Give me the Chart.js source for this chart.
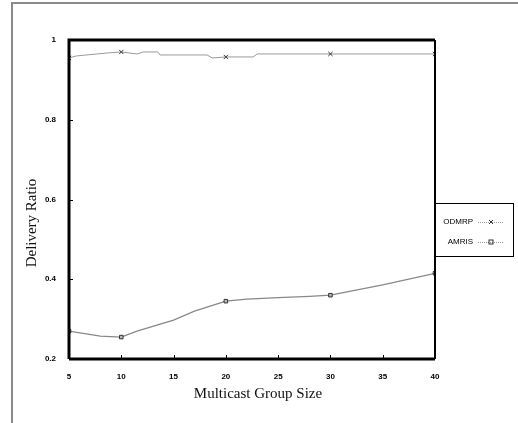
<!DOCTYPE html>
<html>
<head>
<meta charset="utf-8">
<script src="https://cdn.jsdelivr.net/npm/chart.js@4"></script>
<style>
  body { margin: 0; background: #fff; }
  #wrap { position: relative; width: 518px; height: 423px; overflow: hidden; }
  #frame { position: absolute; left: 11px; top: 2px; width: 520px; height: 430px; border-left: 2px solid #8a8a8a; border-top: 2px solid #8a8a8a; }
  #chart { position: absolute; left: 0; top: 0; }
</style>
</head>
<body>
<div id="wrap">
  <div id="frame"></div>
  <canvas id="chart" width="518" height="423"></canvas>
</div>
<script>
// values
const odmrpX = [5, 5.7, 8.7, 10, 11.5, 12.1, 13.5, 13.7, 18.2, 18.7, 20, 22.6, 23, 30, 40];
const odmrpY = [0.955, 0.96, 0.9675, 0.97, 0.965, 0.97, 0.97, 0.9625, 0.9625, 0.955, 0.9575, 0.9575, 0.965, 0.965, 0.965];
const amrisX = [5, 8, 10, 11.5, 15, 17, 20, 22, 25, 28, 30, 35, 40];
const amrisY = [0.27, 0.2575, 0.255, 0.27, 0.2975, 0.32, 0.345, 0.35, 0.354, 0.357, 0.36, 0.386, 0.415];
const markerX = [5, 10, 20, 30, 40];
const xTicks = [5, 10, 15, 20, 25, 30, 35, 40];
const yTicks = [0.2, 0.4, 0.6, 0.8, 1];
const seriesNames = ['ODMRP', 'AMRIS'];

const toPoints = (xs, ys) => xs.map((x, i) => ({ x: x, y: ys[i] }));
const radii = (xs, r) => xs.map(x => markerX.includes(x) ? r : 0);

const tickFont = { family: 'Liberation Sans', size: 8, weight: 'bold' };

const extras = {
  id: 'extras',
  afterDraw(chart) {
    const ctx = chart.ctx;
    const a = chart.chartArea;
    const sx = chart.scales.x, sy = chart.scales.y;
    ctx.save();
    // plot frame
    ctx.strokeStyle = '#000';
    ctx.lineWidth = 3;
    ctx.beginPath();
    ctx.moveTo(a.left, a.bottom);
    ctx.lineTo(a.left, a.top);
    ctx.lineTo(a.right, a.top);
    ctx.stroke();
    ctx.beginPath();
    ctx.moveTo(a.left, a.bottom);
    ctx.lineTo(a.right, a.bottom);
    ctx.stroke();
    ctx.lineWidth = 2;
    ctx.beginPath();
    ctx.moveTo(a.right, a.top);
    ctx.lineTo(a.right, a.bottom);
    ctx.stroke();

    // small inward tick marks
    ctx.lineWidth = 1;
    ctx.beginPath();
    yTicks.forEach(v => {
      const y = Math.round(sy.getPixelForValue(v)) + 0.5;
      ctx.moveTo(a.left, y); ctx.lineTo(a.left + 4, y);
    });
    xTicks.forEach(v => {
      const x = Math.round(sx.getPixelForValue(v)) + 0.5;
      ctx.moveTo(x, a.bottom); ctx.lineTo(x, a.bottom - 4);
    });
    ctx.stroke();

    // axis titles
    ctx.fillStyle = '#111';
    ctx.font = '15px "Liberation Serif"';
    ctx.textAlign = 'center';
    ctx.textBaseline = 'middle';
    ctx.fillText('Multicast Group Size', 258, 394);
    ctx.save();
    ctx.translate(32, 223);
    ctx.rotate(-Math.PI / 2);
    ctx.fillText('Delivery Ratio', 0, 0);
    ctx.restore();

    // legend box
    ctx.lineWidth = 1;
    ctx.strokeStyle = '#000';
    ctx.strokeRect(a.right + 0.5, 203.5, 78, 53);
    ctx.font = '8px "Liberation Sans"';
    ctx.textAlign = 'right';
    ctx.fillStyle = '#000';
    const rows = [222, 242];
    chart.data.datasets.forEach((ds, i) => {
      const y = rows[i];
      ctx.fillText(seriesNames[i], 473, y);
      ctx.strokeStyle = '#999';
      ctx.setLineDash([1, 1]);
      ctx.beginPath();
      ctx.moveTo(478, y + 0.5);
      ctx.lineTo(504, y + 0.5);
      ctx.stroke();
      ctx.setLineDash([]);
      ctx.strokeStyle = '#333';
      ctx.lineWidth = 1;
      if (i === 0) {
        ctx.beginPath();
        ctx.moveTo(489, y - 2); ctx.lineTo(493, y + 2);
        ctx.moveTo(493, y - 2); ctx.lineTo(489, y + 2);
        ctx.stroke();
      } else {
        ctx.strokeRect(489, y - 2, 4, 4);
      }
    });
    ctx.restore();
  }
};

new Chart(document.getElementById('chart'), {
  type: 'line',
  data: {
    datasets: [{
      label: seriesNames[0],
      data: toPoints(odmrpX, odmrpY),
      borderColor: '#9a9a9a',
      borderWidth: 1,
      pointStyle: 'crossRot',
      pointRadius: radii(odmrpX, 3),
      pointBorderColor: '#333',
      pointBorderWidth: 1,
      tension: 0
    }, {
      label: seriesNames[1],
      data: toPoints(amrisX, amrisY),
      borderColor: '#888',
      borderWidth: 1.2,
      pointStyle: 'rect',
      pointRadius: radii(amrisX, 2.5),
      pointBorderColor: '#333',
      pointBackgroundColor: '#bbb',
      pointBorderWidth: 1,
      tension: 0
    }]
  },
  options: {
    responsive: false,
    animation: false,
    layout: { padding: { top: 40, right: 83, left: 0, bottom: 0 } },
    plugins: { legend: { display: false }, tooltip: { enabled: false } },
    scales: {
      x: {
        type: 'linear',
        min: 5, max: 40,
        afterFit: s => { s.height = 64; },
        afterBuildTicks: s => { s.ticks = xTicks.map(v => ({ value: v })); },
        grid: { display: false },
        border: { display: false },
        ticks: { font: tickFont, color: '#000', padding: 5, maxRotation: 0 }
      },
      y: {
        min: 0.2, max: 1,
        afterFit: s => { s.width = 69; },
        afterBuildTicks: s => { s.ticks = yTicks.map(v => ({ value: v })); },
        grid: { display: false },
        border: { display: false },
        ticks: { font: tickFont, color: '#000', padding: 5, callback: v => String(+v.toFixed(1)) }
      }
    }
  },
  plugins: [extras]
});
</script>
</body>
</html>
